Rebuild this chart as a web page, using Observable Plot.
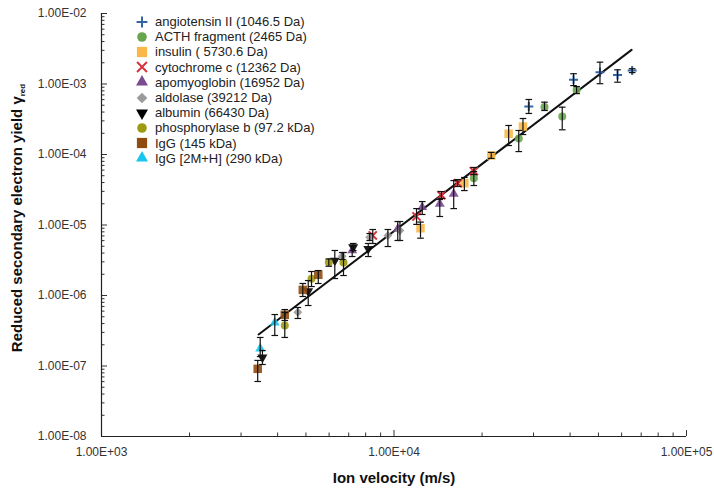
<!DOCTYPE html>
<html><head><meta charset="utf-8">
<script src="https://cdn.jsdelivr.net/npm/d3@7"></script>
<script src="https://cdn.jsdelivr.net/npm/@observablehq/plot@0.6"></script>
<style>
body{margin:0;background:#fff;}
#wrap{position:relative;width:714px;height:494px;font-family:"Liberation Sans",Arial,Helvetica,sans-serif;}
#legend{position:absolute;left:135px;top:14px;}
.row{display:flex;align-items:center;height:15.2px;font-size:13px;color:#222;white-space:nowrap;}
.row svg{width:14px;height:14px;margin-right:6px;overflow:visible}
</style></head><body><div id="wrap"><div id="legend"></div></div>
<script>
// ---- series labels & colours ----
const seriesNames = ["angiotensin II (1046.5 Da)","ACTH fragment (2465 Da)","insulin ( 5730.6 Da)","cytochrome c (12362 Da)","apomyoglobin (16952 Da)","aldolase (39212 Da)","albumin (66430 Da)","phosphorylase b (97.2 kDa)","IgG (145 kDa)","IgG [2M+H] (290 kDa)"];
const seriesColors = ["#3465a4","#68a54e","#fbb848","#d8323c","#7b4b90","#9a9a9a","#000000","#9d9b12","#8f4c0e","#19c6ef"];

// ---- data: velocity (m/s), reduced yield, error low, error high ----
const angV = [28900, 41100, 50600, 58100, 65200];
const angY = [4.8e-4, 1.15e-3, 1.47e-3, 1.34e-3, 1.55e-3];
const angLo = [3.82e-4, 9.5e-4, 1.01e-3, 1.06e-3, 1.45e-3];
const angHi = [6.03e-4, 1.40e-3, 2.04e-3, 1.59e-3, 1.65e-3];

const acthV = [18750, 26700, 32700, 37600, 42100];
const acthY = [4.6e-5, 1.69e-4, 4.72e-4, 3.46e-4, 8.2e-4];
const acthLo = [3.63e-5, 1.10e-4, 4.21e-4, 2.24e-4, 7.3e-4];
const acthHi = [5.74e-5, 2.19e-4, 5.52e-4, 4.69e-4, 9.2e-4];

const insV = [12320, 17400, 21500, 24660, 27600];
const insY = [9.0e-6, 3.92e-5, 9.7e-5, 1.97e-4, 2.49e-4];
const insLo = [6.5e-6, 3.08e-5, 8.8e-5, 1.34e-4, 1.92e-4];
const insHi = [1.10e-5, 4.72e-5, 1.07e-4, 2.58e-4, 3.24e-4];

const cytV = [8460, 11940, 14520, 16520, 18750];
const cytY = [7.1e-6, 1.32e-5, 2.65e-5, 3.92e-5, 5.79e-5];
const cytLo = [5.47e-6, 1.02e-5, 2.38e-5, 3.52e-5, 5.2e-5];
const cytHi = [8.63e-6, 1.71e-5, 2.98e-5, 4.41e-5, 6.55e-5];

const apoV = [7195, 10300, 12490, 14340, 16000];
const apoY = [4.35e-6, 8.83e-6, 1.79e-5, 2.0e-5, 2.77e-5];
const apoLo = [3.57e-6, 6.03e-6, 1.41e-5, 1.32e-5, 1.71e-5];
const apoHi = [5.12e-6, 1.12e-5, 2.15e-5, 2.30e-5, 4.27e-5];

const aldV = [4690, 6650, 8260, 9530, 10480];
const aldY = [5.79e-7, 3.6e-6, 6.7e-6, 7.1e-6, 8.36e-6];
const aldLo = [4.72e-7, 3.24e-6, 6.03e-6, 4.95e-6, 6.03e-6];
const aldHi = [6.76e-7, 4.07e-6, 7.57e-6, 8.63e-6, 1.12e-5];

const albV = [3550, 5090, 6275, 7253, 8165];
const albY = [1.32e-7, 1.15e-6, 3.13e-6, 4.84e-6, 4.6e-6];
const albLo = [1.05e-7, 7.21e-7, 1.74e-6, 4.35e-6, 3.57e-6];
const albHi = [1.66e-7, 1.63e-6, 4.35e-6, 5.47e-6, 5.47e-6];

const phosV = [4233, 5224, 5985, 6720];
const phosY = [3.75e-7, 1.73e-6, 2.96e-6, 2.94e-6];
const phosLo = [2.54e-7, 1.34e-6, 2.6e-6, 1.92e-6];
const phosHi = [5.74e-7, 2.19e-6, 3.3e-6, 4.07e-6];

const iggV = [3420, 4233, 4877, 5510];
const iggY = [9.12e-8, 5.32e-7, 1.2e-6, 1.97e-6];
const iggLo = [6.03e-8, 4.42e-7, 9.68e-7, 1.48e-6];
const iggHi = [1.20e-7, 6.32e-7, 1.48e-6, 2.26e-6];

const igg2V = [3488, 3912];
const igg2Y = [1.77e-7, 4.14e-7];
const igg2Lo = [1.36e-7, 2.71e-7];
const igg2Hi = [2.54e-7, 5.37e-7];

// fitted power-law line end points
const fitV = [3444, 64900];
const fitY = [2.8e-7, 3.05e-3];

// axis ticks
const xMajor = [1e3, 1e4, 1e5];
const yMajor = [1e-8, 1e-7, 1e-6, 1e-5, 1e-4, 1e-3, 1e-2];

// ---- build tables ----
function rows(v, y, lo, hi, s) { return v.map((d, i) => ({v: d, y: y[i], lo: lo[i], hi: hi[i], s})); }
const series = [
  rows(angV, angY, angLo, angHi, 0),
  rows(acthV, acthY, acthLo, acthHi, 1),
  rows(insV, insY, insLo, insHi, 2),
  rows(cytV, cytY, cytLo, cytHi, 3),
  rows(apoV, apoY, apoLo, apoHi, 4),
  rows(aldV, aldY, aldLo, aldHi, 5),
  rows(albV, albY, albLo, albHi, 6),
  rows(phosV, phosY, phosLo, phosHi, 7),
  rows(iggV, iggY, iggLo, iggHi, 8),
  rows(igg2V, igg2Y, igg2Lo, igg2Hi, 9)
];
const all = series.flat();
const fit = fitV.map((v, i) => ({v, y: fitY[i]}));

const triDown = {draw(ctx, size) {
  const y = -Math.sqrt(size / (Math.sqrt(3) * 3)), s3 = Math.sqrt(3);
  ctx.moveTo(0, -y * 2); ctx.lineTo(-s3 * y, y); ctx.lineTo(s3 * y, y); ctx.closePath();
}};
const capSym = {draw(ctx, size) { const h = Math.sqrt(size / Math.PI); ctx.moveTo(-h, 0); ctx.lineTo(h, 0); }};

const symbols = [d3.symbolPlus, d3.symbolCircle, d3.symbolSquare, d3.symbolTimes, d3.symbolTriangle, d3.symbolDiamond2, triDown, d3.symbolCircle, d3.symbolSquare, d3.symbolTriangle];
const radii = [3, 4, 4.8, 3.8, 3.7, 4, 3.7, 4, 4.8, 3.7];
const stroked = [true, false, false, true, false, false, false, false, false, false];

const minor = [];
for (let e = -8; e < -2; e++) for (let k = 2; k <= 9; k++) minor.push(k * Math.pow(10, e));
const minorX = [];
for (let e = 3; e < 5; e++) for (let k = 2; k <= 9; k++) minorX.push(k * Math.pow(10, e));

const fmt = d => { const e = Math.round(Math.log10(d)); return "1.00E" + (e < 0 ? "-" : "+") + String(Math.abs(e)).padStart(2, "0"); };

const dotMarks = series.map((data, i) => stroked[i]
  ? Plot.dot(data, {x: "v", y: "y", symbol: symbols[i], r: radii[i], stroke: seriesColors[i], strokeWidth: 2, fill: "none"})
  : Plot.dot(data, {x: "v", y: "y", symbol: symbols[i], r: radii[i], fill: seriesColors[i], fillOpacity: 0.9}));

const chart = Plot.plot({
  width: 714, height: 494,
  marginLeft: 101, marginRight: 28, marginTop: 13, marginBottom: 58,
  style: {fontFamily: "'Liberation Sans', Arial, Helvetica, sans-serif", background: "#fff"},
  x: {type: "log", domain: [1e3, 1e5]},
  y: {type: "log", domain: [1e-8, 1e-2]},
  marks: [
    Plot.axisY({ticks: yMajor, tickSize: 0, tickPadding: 15, tickFormat: fmt, fontSize: 12, fill: "#333", label: null}),
    Plot.axisY({ticks: yMajor, tickSize: -6, tickFormat: () => "", label: null, stroke: "#333"}),
    Plot.axisY({ticks: minor, tickSize: -3.5, tickFormat: () => "", label: null, stroke: "#333"}),
    Plot.axisX({ticks: xMajor, tickSize: 0, tickPadding: 11, tickFormat: fmt, fontSize: 12, fill: "#333", label: null}),
    Plot.axisX({ticks: xMajor, tickSize: -6, tickFormat: () => "", label: null, stroke: "#333"}),
    Plot.axisX({ticks: minorX, tickSize: -3.5, tickFormat: () => "", label: null, stroke: "#333"}),
    Plot.ruleX([1e3], {stroke: "#222", strokeWidth: 1.2}),
    Plot.ruleY([1e-8], {stroke: "#222", strokeWidth: 1.2}),
    Plot.line(fit, {x: "v", y: "y", stroke: "#111", strokeWidth: 2}),
    ...dotMarks,
    Plot.ruleX(all, {x: "v", y1: "lo", y2: "hi", stroke: "#111", strokeWidth: 1.2}),
    Plot.dot(all, {x: "v", y: "lo", symbol: capSym, r: 3.3, stroke: "#111", strokeWidth: 1.2}),
    Plot.dot(all, {x: "v", y: "hi", symbol: capSym, r: 3.3, stroke: "#111", strokeWidth: 1.2})
  ]
});

const svg = d3.select(chart);
svg.append("text").attr("x", 394).attr("y", 483).attr("text-anchor", "middle")
  .attr("font-size", 15).attr("font-weight", "bold").attr("fill", "#111").text("Ion velocity (m/s)");
const yl = svg.append("text").attr("transform", "translate(22,218) rotate(-90)").attr("text-anchor", "middle")
  .attr("font-size", 15).attr("font-weight", "bold").attr("fill", "#111");
yl.append("tspan").text("Reduced secondary electron yield γ");
yl.append("tspan").attr("font-size", 8).attr("dy", 3).text("red");

document.getElementById("wrap").prepend(chart);

// ---- legend ----
const leg = d3.select("#legend");
seriesNames.forEach((name, i) => {
  const row = leg.append("div").attr("class", "row");
  const s = row.append("svg").attr("viewBox", "-7 -7 14 14");
  const size = Math.PI * (radii[i] * 1.2) ** 2;
  const p = s.append("path").attr("d", d3.symbol(symbols[i], size)());
  if (stroked[i]) p.attr("fill", "none").attr("stroke", seriesColors[i]).attr("stroke-width", 2);
  else p.attr("fill", seriesColors[i]);
  row.append("span").text(name);
});
</script></body></html>
